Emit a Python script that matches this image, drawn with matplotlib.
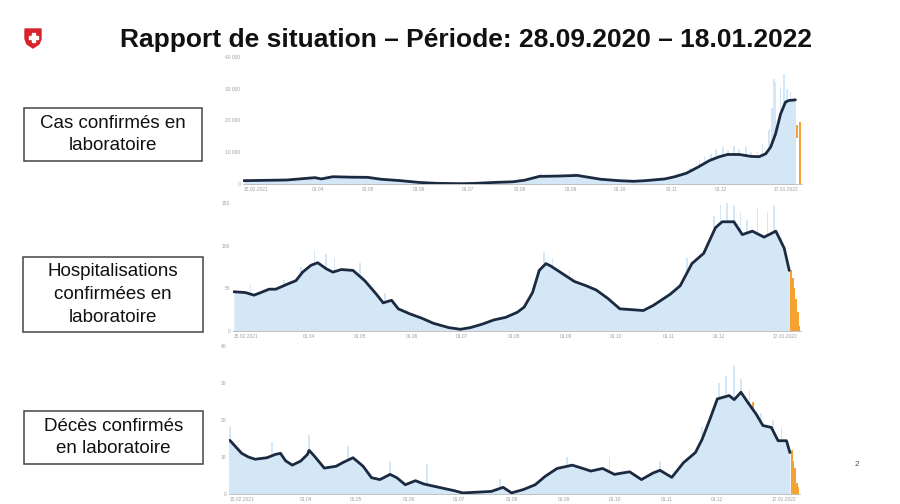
import matplotlib
matplotlib.use("Agg")
import matplotlib.pyplot as plt
from matplotlib.patches import Rectangle, Polygon
from matplotlib.ticker import FuncFormatter

# day offsets from 15.02.2021
tick_days = [0, 45, 75, 106, 136, 167, 198, 228, 259, 289, 336]
tick_labels = ["15.02.2021", "01.04", "01.05", "01.06", "01.07", "01.08",
               "01.09", "01.10", "01.11", "01.12", "17.01.2022"]

# --- cas confirmés ---
cases_days = [0, 26, 43, 47, 54, 65, 75, 83, 95, 106, 117, 132, 140, 152, 163, 170, 179,
              190, 202, 209, 216, 227, 236, 243, 255, 261, 268, 275, 282, 288, 293, 300,
              307, 312, 316, 319, 322, 325, 328, 330, 334]
cases_avg = [1050, 1260, 2000, 1600, 2300, 2150, 2100, 1500, 1050, 500, 200, 100, 200, 500,
             700, 1200, 2400, 2500, 2700, 2100, 1500, 1050, 850, 1050, 1600, 2300, 3400,
             5300, 7400, 8600, 9300, 9300, 8700, 8600, 9500, 11600, 15800, 22000, 25800,
             26300, 26500]
cases_spike_days = [50, 180, 200, 262, 270, 276, 279, 283, 286, 290, 293, 297, 300, 304,
                    307, 311, 314, 318, 320, 321, 322, 325, 327, 329, 331, 333]
cases_spike_vals = [3000, 3500, 3600, 3500, 5000, 7500, 8800, 9500, 11000, 11500, 10800,
                    12000, 11000, 11500, 10000, 10500, 12500, 17000, 24000, 33000, 32000,
                    30500, 34500, 30000, 29000, 24000]
cases_orange_days = [335, 337]
cases_orange_vals = [18500, 19500]
cases_orange_bottom = [14500, 0]

# --- hospitalisations ---
hosp_days = [0, 7, 12, 16, 21, 25, 32, 37, 41, 46, 50, 55, 59, 64, 71, 78, 85, 89, 94, 98,
             105, 112, 119, 128, 135, 141, 148, 155, 162, 169, 173, 178, 182, 186, 189, 196,
             203, 210, 216, 223, 230, 237, 244, 250, 260, 266, 273, 280, 287, 291, 298, 303,
             309, 316, 323, 328, 331]
hosp_avg = [46, 45, 42, 45, 49, 49, 55, 59, 69, 77, 80, 73, 69, 72, 71, 59, 43, 33, 36, 26,
            20, 15, 9, 4, 2, 4, 8, 13, 16, 22, 28, 45, 71, 79, 76, 67, 58, 53, 48, 38, 26, 25,
            24, 30, 43, 53, 79, 91, 121, 128, 128, 113, 117, 110, 117, 97, 71]
hosp_spike_days = [10, 30, 40, 48, 55, 60, 75, 90, 185, 190, 200, 270, 282, 286, 290, 294,
                   298, 302, 306, 312, 318, 322, 326]
hosp_spike_vals = [55, 60, 75, 95, 90, 85, 80, 45, 92, 85, 72, 85, 100, 135, 148, 150, 148,
                   140, 130, 145, 140, 148, 110]
hosp_orange_days = [332, 333, 334, 335, 336, 337]
hosp_orange_vals = [72, 62, 50, 38, 22, 6]
hosp_orange_bottom = [0, 0, 0, 0, 0, 0]

# --- décès ---
death_days = [0, 4, 7, 11, 15, 22, 27, 30, 33, 37, 42, 46, 47, 50, 56, 63, 67, 73, 79, 84,
              89, 95, 99, 104, 110, 115, 124, 133, 138, 147, 155, 162, 167, 174, 181, 187,
              194, 203, 210, 214, 221, 228, 233, 237, 244, 251, 255, 262, 269, 276, 280, 285,
              289, 296, 299, 303, 307, 312, 316, 321, 325, 330, 332]
death_avg = [14.5, 12.5, 11, 10, 9.4, 9.8, 10.7, 11, 9, 7.8, 8.9, 10.7, 11.8, 10.3, 7, 7.5,
             8.5, 9.8, 7.5, 4.4, 3.9, 5.3, 4.4, 2.5, 3.6, 2.7, 1.8, 0.9, 0.3, 0.5, 0.7, 1.8,
             0.3, 1.2, 2.5, 4.8, 6.9, 7.8, 6.8, 6.2, 6.9, 5.3, 5.7, 6, 3.9, 5.7, 6.4, 4.5, 8.5,
             11.2, 14.8, 20.7, 25.7, 26.6, 25.5, 27.5, 24.8, 21.6, 18.5, 18, 14.4, 14.4, 11.2]
death_spike_days = [0, 25, 47, 70, 95, 117, 160, 200, 225, 255, 280, 290, 294, 299, 303, 308,
                    315, 322, 327]
death_spike_vals = [18, 14, 16, 13, 9, 8, 4, 10, 10, 9, 18, 30, 32, 35, 31, 28, 22, 20, 18]
death_orange_days = [310, 333, 334, 335, 336, 337]
death_orange_vals = [25, 12, 9, 7, 3, 2]
death_orange_bottom = [23, 0, 0, 0, 0, 0]

W, H = 900, 504
BAR = "#d3e7f7"
LINE = "#1b2a40"
ORANGE = "#f4a232"
TICK = "#a0a0a0"


def fig_rect(x0, y0, x1, y1):
    # pixel box (top-left origin) -> figure fraction [l, b, w, h]
    return [x0 / W, 1 - y1 / H, (x1 - x0) / W, (y1 - y0) / H]


def panel(fig, rect, ymax, ystep, days, avg, sdays, svals, odays, ovals, obottom):
    ax = fig.add_axes(rect)
    ax.fill_between(days, avg, color=BAR, lw=0)
    ax.bar(sdays, svals, width=1.0, color=BAR, lw=0)
    ax.bar(odays, [v - b for v, b in zip(ovals, obottom)], bottom=obottom,
           width=1.2, color=ORANGE, lw=0)
    ax.plot(days, avg, color=LINE, lw=2.0, solid_capstyle="round")
    ax.set_xlim(-0.5, 338)
    ax.set_ylim(0, ymax)
    ax.set_yticks(range(0, ymax + 1, ystep))
    ax.yaxis.set_major_formatter(FuncFormatter(lambda v, p: f"{v:,.0f}".replace(",", " ")))
    ax.set_xticks(tick_days)
    ax.set_xticklabels(tick_labels)
    lbls = ax.get_xticklabels()
    lbls[0].set_ha("left")
    lbls[-1].set_ha("right")
    ax.tick_params(length=0, labelsize=3.5, colors=TICK, pad=2)
    for s in ["top", "right", "left"]:
        ax.spines[s].set_visible(False)
    ax.spines["bottom"].set_color("#b8b8b8")
    ax.spines["bottom"].set_linewidth(0.6)
    ax.patch.set_alpha(0)
    return ax


def main():
    plt.rcParams["font.family"] = ["Liberation Sans", "DejaVu Sans"]
    fig = plt.figure(figsize=(9, 5.04), dpi=100)

    fig.text(466 / W, 1 - 40 / H, "Rapport de situation – Période: 28.09.2020 – 18.01.2022",
             ha="center", va="center", fontsize=19, fontweight="bold", color="#111111")

    # swiss shield
    sx, sy = 25, 29
    shield = [(sx, sy), (sx + 16, sy), (sx + 16, sy + 10), (sx + 14, sy + 15),
              (sx + 8, sy + 19), (sx + 2, sy + 15), (sx, sy + 10)]
    fig.patches.append(Polygon([(x / W, 1 - y / H) for x, y in shield], closed=True,
                               transform=fig.transFigure, color="#d8232a"))
    cx, cy = sx + 8, sy + 8.5
    for (w, h) in [(9, 3), (3, 9)]:
        fig.patches.append(Rectangle(((cx - w / 2) / W, 1 - (cy + h / 2) / H), w / W, h / H,
                                     transform=fig.transFigure, color="white"))

    boxes = [((24, 108, 202, 161), "Cas confirmés en\nlaboratoire"),
             ((23, 257, 203, 332), "Hospitalisations\nconfirmées en\nlaboratoire"),
             ((24, 411, 203, 464), "Décès confirmés\nen laboratoire")]
    for (x0, y0, x1, y1), txt in boxes:
        l, b, w, h = fig_rect(x0, y0, x1, y1)
        fig.patches.append(Rectangle((l, b), w, h, transform=fig.transFigure,
                                     fill=False, ec="#444444", lw=1.1))
        fig.text(l + w / 2, b + h / 2, txt, ha="center", va="center", fontsize=13.5,
                 linespacing=1.45, color="#111111")

    panel(fig, fig_rect(243, 57, 802, 184), 40000, 10000, cases_days, cases_avg,
          cases_spike_days, cases_spike_vals, cases_orange_days, cases_orange_vals,
          cases_orange_bottom)
    panel(fig, fig_rect(233, 203, 801, 331), 150, 50, hosp_days, hosp_avg,
          hosp_spike_days, hosp_spike_vals, hosp_orange_days, hosp_orange_vals,
          hosp_orange_bottom)
    panel(fig, fig_rect(229, 346, 800, 494), 40, 10, death_days, death_avg,
          death_spike_days, death_spike_vals, death_orange_days, death_orange_vals,
          death_orange_bottom)

    fig.text(857 / W, 1 - 465 / H, "2", ha="center", va="center", fontsize=6, color="#555555")

    fig.savefig("out.png", dpi=100)


if __name__ == "__main__":
    main()
